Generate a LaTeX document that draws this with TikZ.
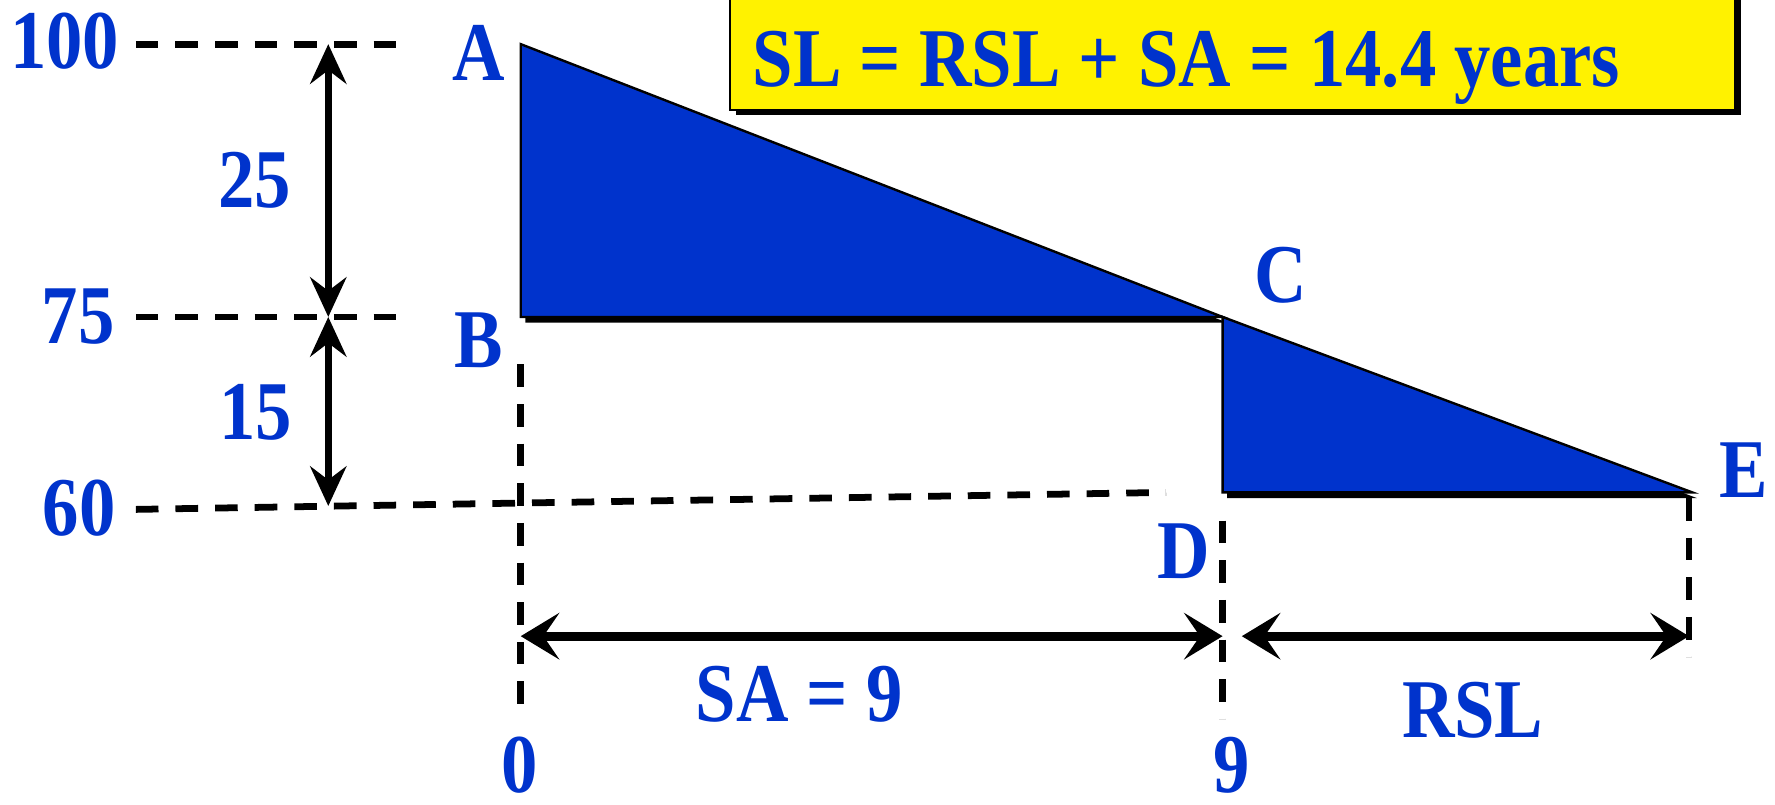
\documentclass[tikz,border=0pt]{standalone}
\usepackage{fontspec}
\setmainfont{Liberation Serif}
\newfontfamily\lblfont{Liberation Serif}[FakeStretch=0.87]
\usetikzlibrary{arrows.meta, calc, positioning}

\definecolor{lblblue}{RGB}{0,51,204}
\definecolor{areablue}{RGB}{0,51,204}

\begin{document}
\begin{tikzpicture}[>=Stealth,
    lbl/.style={text=lblblue, font=\lblfont\fontsize{21}{25}\selectfont\bfseries, inner sep=0pt},
    guide/.style={dash pattern=on 2mm off 1.5mm, line width=1.7pt},
    dimv/.style={{Stealth[length=3.5mm,width=3.2mm,inset=1.2mm]}-{Stealth[length=3.5mm,width=3.2mm,inset=1.2mm]}, line width=1.7pt},
    dimh/.style={{Stealth[length=3.4mm,width=4.1mm,inset=1.4mm]}-{Stealth[length=3.4mm,width=4.1mm,inset=1.4mm]}, line width=2.3pt}]
    \clip (0,0) rectangle (15.68,7.11);

    % corner points of the value curve
    \coordinate (A) at (4.60,6.72);
    \coordinate (B) at (4.60,4.31);
    \coordinate (C) at (10.80,4.31);
    \coordinate (D) at (10.80,2.76);
    \coordinate (E) at (14.95,2.76);

    % result box
    \fill (6.50,6.09) rectangle (15.38,7.40);
    \draw[fill=yellow, line width=0.6pt] (6.45,6.14) rectangle (15.33,7.40);
    \node[lbl, anchor=base] (sl) at (10.48,6.35) {SL = RSL + SA = 14.4 years};

    % shaded areas with shadow
    \fill ([xshift=0.4mm,yshift=-0.5mm]A) -- ([xshift=0.4mm,yshift=-0.5mm]C) -- ([xshift=0.4mm,yshift=-0.5mm]B) -- cycle;
    \fill ([xshift=0.4mm,yshift=-0.5mm]C) -- ([xshift=0.4mm,yshift=-0.5mm]E) -- ([xshift=0.4mm,yshift=-0.5mm]D) -- cycle;
    \filldraw[fill=areablue, line width=0.6pt] (A) -- (C) -- (B) -- cycle;
    \filldraw[fill=areablue, line width=0.6pt] (C) -- (E) -- (D) -- cycle;

    % guide lines
    \draw[guide] (1.20,0 |- A) -- (3.60,0 |- A);
    \draw[guide] (1.20,0 |- B) -- (3.60,0 |- B);
    \draw[guide] (1.20,2.61) -- (10.30,2.76);
    \draw[guide] ([yshift=-4.2mm]B) -- (4.60,0.76);
    \draw[guide] ([yshift=-2.5mm]D) -- (10.80,0.76);
    \draw[guide] (14.92,2.71) -- (14.92,1.31);

    % dimension arrows
    \coordinate (t100) at (2.90,6.72);
    \coordinate (t75) at (2.90,4.31);
    \coordinate (t60) at (2.90,2.64);
    \coordinate (s0) at (4.60,1.49);
    \coordinate (s9) at (10.80,1.49);
    \coordinate (r9) at (10.97,1.49);
    \coordinate (rE) at (14.92,1.49);
    \draw[dimv] (t100) -- (t75);
    \draw[dimv] (t75) -- (t60);
    \draw[dimh] (s0) -- (s9);
    \draw[dimh] (r9) -- (rE);

    % labels
    \node[lbl] (n100) at (0.57,6.75) {100};
    \node[lbl] (n75) at (0.69,4.31) {75};
    \node[lbl] (n60) at (0.70,2.62) {60};
    \node[lbl] (n25) at (2.25,5.52) {25};
    \node[lbl] (n15) at (2.26,3.47) {15};
    \node[lbl] (lA) at (4.23,6.64) {A};
    \node[lbl] (lB) at (4.23,4.10) {B};
    \node[lbl] (lC) at (11.31,4.68) {C};
    \node[lbl] (lD) at (10.46,2.24) {D};
    \node[lbl] (lE) at (15.40,2.96) {E};
    \node[lbl] (sa) at (7.06,0.98) {SA = 9};
    \node[lbl] (rsl) at (13.01,0.84) {RSL};
    \node[lbl] (x0) at (4.59,0.35) {0};
    \node[lbl] (x9) at (10.88,0.35) {9};
\end{tikzpicture}
\end{document}
